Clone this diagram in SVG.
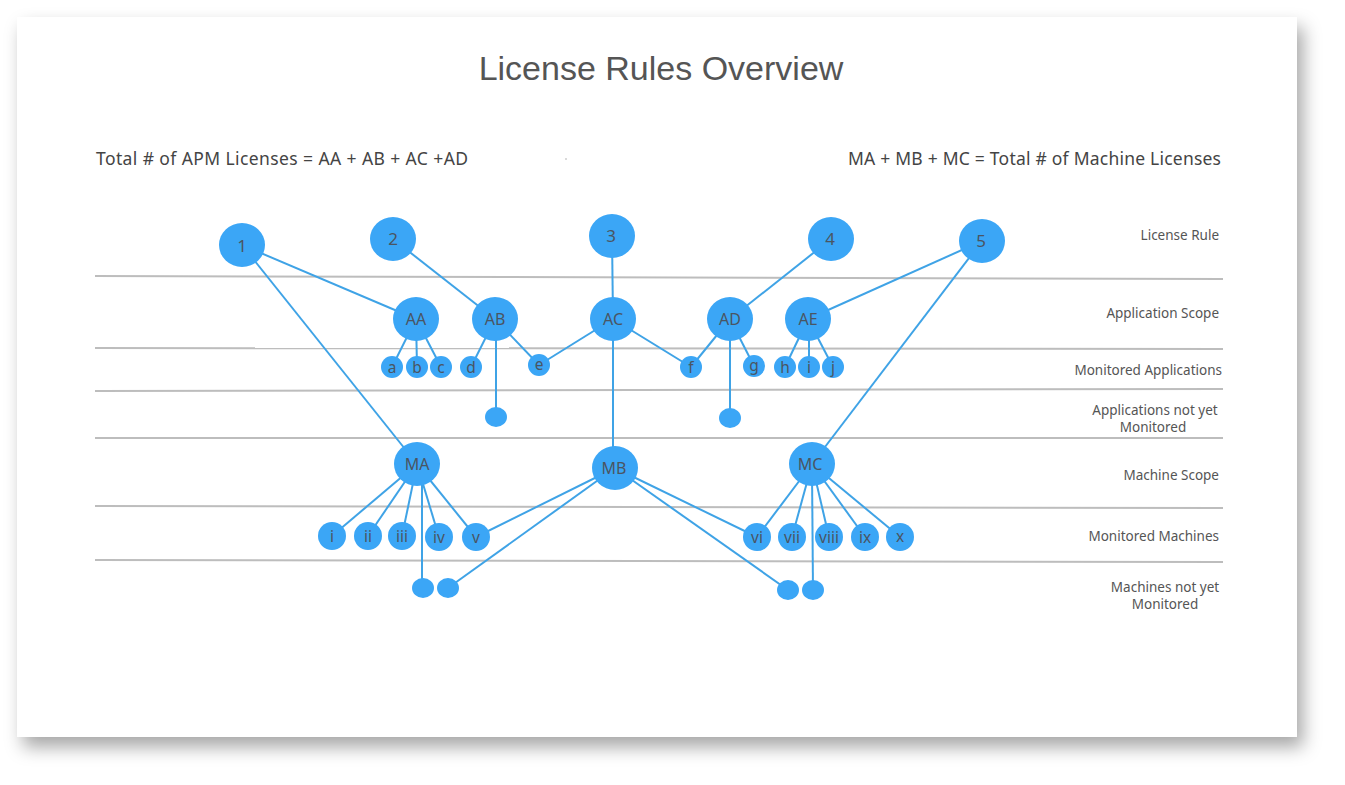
<svg xmlns="http://www.w3.org/2000/svg" width="1345" height="785" viewBox="0 0 1345 785">
<defs>
<filter id="sh" x="-10%" y="-10%" width="120%" height="125%">
<feDropShadow dx="6" dy="10" stdDeviation="9" flood-color="#000" flood-opacity="0.35"/>
</filter>
<style>
.n{fill:#3ba6f6}
.t{font-family:"Noto Sans","DejaVu Sans",sans-serif;fill:#4a5563;text-anchor:middle;dominant-baseline:central}
.big{font-size:17px}
.sm{font-size:16px}
.xs{font-size:15.5px}
.lbl{font-family:"Noto Sans","DejaVu Sans",sans-serif;font-size:13.5px;fill:#555}
.hdr{font-family:"Noto Sans","DejaVu Sans",sans-serif;font-size:17.5px;fill:#444}
.c line{stroke:#3fa3e6;stroke-width:2}
.g line{stroke:#bdbdbd;stroke-width:2}
</style>
</defs>
<rect width="1345" height="785" fill="#fff"/>
<rect x="17" y="17" width="1280" height="720" fill="#fff" filter="url(#sh)"/>
<text x="661" y="80" text-anchor="middle" font-family="Liberation Sans, Arial, sans-serif" font-size="34" fill="#555">License Rules Overview</text>
<text class="hdr" x="96" y="165" textLength="372" lengthAdjust="spacing">Total # of APM Licenses = AA + AB + AC +AD</text>
<text class="hdr" x="848" y="165" textLength="373" lengthAdjust="spacing">MA + MB + MC = Total # of Machine Licenses</text>
<circle cx="566" cy="159" r="0.8" fill="#aaa"/>
<g class="g" id="gridlines">
<line x1="95" y1="276" x2="1223" y2="279"/>
<line x1="95" y1="348" x2="1223" y2="349"/>
<line x1="95" y1="391" x2="1223" y2="389"/>
<line x1="95" y1="438" x2="1223" y2="438"/>
<line x1="95" y1="506" x2="1223" y2="508"/>
<line x1="95" y1="560" x2="1223" y2="562"/>
</g>
<g id="row-labels">
<text class="lbl" x="1219" y="240" text-anchor="end">License Rule</text>
<text class="lbl" x="1219" y="318" text-anchor="end">Application Scope</text>
<text class="lbl" x="1222" y="375" text-anchor="end">Monitored Applications</text>
<text class="lbl" x="1155" y="415" text-anchor="middle">Applications not yet</text>
<text class="lbl" x="1153" y="432" text-anchor="middle">Monitored</text>
<text class="lbl" x="1219" y="480" text-anchor="end">Machine Scope</text>
<text class="lbl" x="1219" y="541" text-anchor="end">Monitored Machines</text>
<text class="lbl" x="1165" y="592" text-anchor="middle">Machines not yet</text>
<text class="lbl" x="1165" y="609" text-anchor="middle">Monitored</text>
</g>
<g class="c" id="connectors">
<line x1="242" y1="245" x2="416" y2="319"/>
<line x1="242" y1="245" x2="417" y2="464"/>
<line x1="393" y1="239" x2="495" y2="319"/>
<line x1="612" y1="236" x2="613" y2="319"/>
<line x1="831" y1="239" x2="730" y2="319"/>
<line x1="982" y1="241" x2="808" y2="319"/>
<line x1="982" y1="241" x2="812" y2="464"/>
<line x1="416" y1="319" x2="392" y2="367"/>
<line x1="416" y1="319" x2="417" y2="367"/>
<line x1="416" y1="319" x2="441" y2="367"/>
<line x1="495" y1="319" x2="471" y2="367"/>
<line x1="495" y1="319" x2="539" y2="365"/>
<line x1="496" y1="319" x2="496" y2="417"/>
<line x1="613" y1="319" x2="539" y2="365"/>
<line x1="613" y1="319" x2="691" y2="367"/>
<line x1="613" y1="319" x2="613" y2="468"/>
<line x1="730" y1="319" x2="691" y2="367"/>
<line x1="730" y1="319" x2="754" y2="366"/>
<line x1="730" y1="319" x2="730" y2="418"/>
<line x1="808" y1="319" x2="785" y2="367"/>
<line x1="809" y1="319" x2="809" y2="367"/>
<line x1="808" y1="319" x2="833" y2="367"/>
<line x1="417" y1="464" x2="332" y2="536"/>
<line x1="417" y1="464" x2="368" y2="536"/>
<line x1="417" y1="464" x2="402" y2="536"/>
<line x1="417" y1="464" x2="439" y2="537"/>
<line x1="417" y1="464" x2="476" y2="537"/>
<line x1="422" y1="470" x2="422" y2="588"/>
<line x1="615" y1="468" x2="476" y2="537"/>
<line x1="615" y1="468" x2="448" y2="588"/>
<line x1="615" y1="468" x2="757" y2="537"/>
<line x1="615" y1="468" x2="788" y2="590"/>
<line x1="812" y1="464" x2="757" y2="537"/>
<line x1="812" y1="464" x2="792" y2="537"/>
<line x1="812" y1="464" x2="829" y2="537"/>
<line x1="812" y1="464" x2="865" y2="537"/>
<line x1="812" y1="464" x2="900" y2="537"/>
<line x1="812" y1="470" x2="813" y2="590"/>
</g>
<g id="n1"><ellipse class="n" cx="242" cy="245" rx="23" ry="22"/><text class="t big" x="242" y="245">1</text></g>
<g id="n2"><ellipse class="n" cx="393" cy="239" rx="23" ry="22"/><text class="t big" x="393" y="238">2</text></g>
<g id="n3"><ellipse class="n" cx="612" cy="236" rx="23" ry="22"/><text class="t big" x="611" y="235">3</text></g>
<g id="n4"><ellipse class="n" cx="831" cy="239" rx="23" ry="22"/><text class="t big" x="830" y="238">4</text></g>
<g id="n5"><ellipse class="n" cx="982" cy="241" rx="23" ry="22"/><text class="t big" x="981" y="240">5</text></g>
<g id="AA"><ellipse class="n" cx="416" cy="319" rx="23" ry="22"/><text class="t sm" x="416" y="319">AA</text></g>
<g id="AB"><ellipse class="n" cx="495" cy="319" rx="23" ry="22"/><text class="t sm" x="495" y="319">AB</text></g>
<g id="AC"><ellipse class="n" cx="613" cy="319" rx="23" ry="22"/><text class="t sm" x="613" y="319">AC</text></g>
<g id="AD"><ellipse class="n" cx="730" cy="319" rx="23" ry="22"/><text class="t sm" x="730" y="319">AD</text></g>
<g id="AE"><ellipse class="n" cx="808" cy="319" rx="23" ry="22"/><text class="t sm" x="808" y="319">AE</text></g>
<g id="a"><circle class="n" cx="392" cy="367" r="11"/><text class="t xs" x="392" y="367">a</text></g>
<g id="b"><circle class="n" cx="417" cy="367" r="11"/><text class="t xs" x="417" y="367">b</text></g>
<g id="c"><circle class="n" cx="441" cy="367" r="11"/><text class="t xs" x="441" y="367">c</text></g>
<g id="d"><circle class="n" cx="471" cy="367" r="11"/><text class="t xs" x="471" y="367">d</text></g>
<g id="e"><circle class="n" cx="539" cy="365" r="11"/><text class="t xs" x="539" y="364">e</text></g>
<g id="f"><circle class="n" cx="691" cy="367" r="11"/><text class="t xs" x="691" y="367">f</text></g>
<g id="g"><circle class="n" cx="754" cy="366" r="11"/><text class="t xs" x="754" y="365">g</text></g>
<g id="h"><circle class="n" cx="785" cy="367" r="11"/><text class="t xs" x="785" y="367">h</text></g>
<g id="i-app"><circle class="n" cx="809" cy="367" r="11"/><text class="t xs" x="809" y="367">i</text></g>
<g id="j"><circle class="n" cx="833" cy="367" r="11"/><text class="t xs" x="833" y="367">j</text></g>
<g id="app-unmon-1"><ellipse class="n" cx="496" cy="417" rx="11" ry="10"/></g>
<g id="app-unmon-2"><ellipse class="n" cx="730" cy="418" rx="11" ry="10"/></g>
<g id="MA"><ellipse class="n" cx="417" cy="464" rx="23" ry="22"/><text class="t sm" x="417" y="464">MA</text></g>
<g id="MB"><ellipse class="n" cx="615" cy="468" rx="23" ry="22"/><text class="t sm" x="614" y="468">MB</text></g>
<g id="MC"><ellipse class="n" cx="812" cy="464" rx="23" ry="22"/><text class="t sm" x="810" y="464">MC</text></g>
<g id="m-i"><circle class="n" cx="332" cy="536" r="14"/><text class="t xs" x="332" y="536">i</text></g>
<g id="m-ii"><circle class="n" cx="368" cy="536" r="14"/><text class="t xs" x="368" y="536">ii</text></g>
<g id="m-iii"><circle class="n" cx="402" cy="536" r="14"/><text class="t xs" x="402" y="536">iii</text></g>
<g id="m-iv"><circle class="n" cx="439" cy="537" r="14"/><text class="t xs" x="439" y="537">iv</text></g>
<g id="m-v"><circle class="n" cx="476" cy="537" r="14"/><text class="t xs" x="476" y="537">v</text></g>
<g id="m-vi"><circle class="n" cx="757" cy="537" r="14"/><text class="t xs" x="757" y="537">vi</text></g>
<g id="m-vii"><circle class="n" cx="792" cy="537" r="14"/><text class="t xs" x="792" y="537">vii</text></g>
<g id="m-viii"><circle class="n" cx="829" cy="537" r="14"/><text class="t xs" x="829" y="537">viii</text></g>
<g id="m-ix"><circle class="n" cx="865" cy="537" r="14"/><text class="t xs" x="865" y="537">ix</text></g>
<g id="m-x"><circle class="n" cx="900" cy="537" r="14"/><text class="t xs" x="900" y="536">x</text></g>
<g id="mach-unmon-1"><ellipse class="n" cx="423" cy="588" rx="11" ry="10"/></g>
<g id="mach-unmon-2"><ellipse class="n" cx="448" cy="588" rx="11" ry="10"/></g>
<g id="mach-unmon-3"><ellipse class="n" cx="788" cy="590" rx="11" ry="10"/></g>
<g id="mach-unmon-4"><ellipse class="n" cx="813" cy="590" rx="11" ry="10"/></g>
</svg>
